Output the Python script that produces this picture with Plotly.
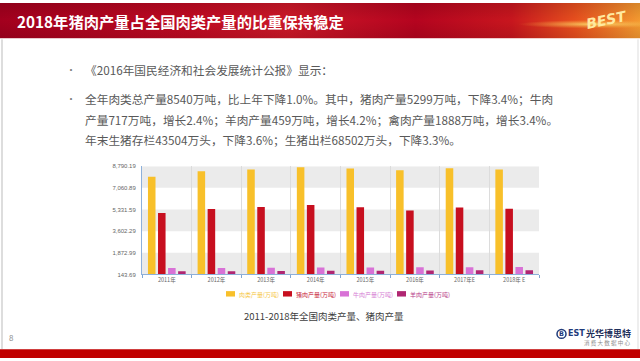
import base64
import plotly.graph_objects as go

# ---------------- data ----------------
years = ["2011年", "2012年", "2013年", "2014年", "2015年", "2016年", "2017年E", "2018年 E"]
meat = [7950, 8390, 8530, 8710, 8610, 8460, 8630, 8530]
pork = [5060, 5380, 5530, 5690, 5510, 5250, 5500, 5400]
beef = [650, 665, 680, 690, 700, 717, 725, 735]
mutton = [393, 401, 408, 428, 441, 459, 468, 475]
series_names = ["肉类产量(万吨)", "猪肉产量(万吨)", "牛肉产量(万吨)", "羊肉产量(万吨)"]
ytick_vals = [143.69, 1872.99, 3602.29, 5331.59, 7060.89, 8790.19]
ytick_text = ["143.69", "1,872.99", "3,602.29", "5,331.59", "7,060.89", "8,790.19"]

title_text = "2018年猪肉产量占全国肉类产量的比重保持稳定"
bullet_lines = [
    "《2016年国民经济和社会发展统计公报》显示：",
    "全年肉类总产量8540万吨，比上年下降1.0%。其中，猪肉产量5299万吨，下降3.4%；牛肉",
    "产量717万吨，增长2.4%；羊肉产量459万吨，增长4.2%；禽肉产量1888万吨，增长3.4%。",
    "年末生猪存栏43504万头，下降3.6%；生猪出栏68502万头，下降3.3%。",
]
caption = "2011-2018年全国肉类产量、猪肉产量"

colors = ["#F8C02A", "#C70F1F", "#D872D6", "#B02672"]
legend_text_colors = ["#F6C84A", "#C8243A", "#D680D4", "#B8408A"]

W, H = 640, 361
def px(x):
    return x / W
def py(y):
    return 1 - y / H

FONT = "Noto Sans CJK SC"

fig = go.Figure()
for name, vals, c in zip(series_names, [meat, pork, beef, mutton], colors):
    fig.add_trace(go.Bar(x=years, y=vals, name=name, marker=dict(color=c, line=dict(width=0)),
                         showlegend=False))

shapes = []
annotations = []

# title bar gradient (decorative background image)
svg = """<svg xmlns='http://www.w3.org/2000/svg' width='640' height='36' viewBox='0 0 640 36'>
<defs>
<linearGradient id='g' x1='0' y1='0' x2='1' y2='0'>
<stop offset='0' stop-color='#A3001E'/>
<stop offset='0.3' stop-color='#C00A22'/>
<stop offset='0.45' stop-color='#CC1828'/>
<stop offset='0.65' stop-color='#B5041F'/>
<stop offset='0.8' stop-color='#C8161E'/>
<stop offset='0.9' stop-color='#E8501E'/>
<stop offset='1' stop-color='#F49A30'/>
</linearGradient>
<radialGradient id='r' cx='0.93' cy='0.6' r='0.12'>
<stop offset='0' stop-color='#FFE070' stop-opacity='0.9'/>
<stop offset='1' stop-color='#FFB040' stop-opacity='0'/>
</radialGradient>
<linearGradient id='v' x1='0' y1='0' x2='0' y2='1'>
<stop offset='0' stop-color='#000000' stop-opacity='0.12'/>
<stop offset='0.5' stop-color='#000000' stop-opacity='0'/>
<stop offset='1' stop-color='#000000' stop-opacity='0.1'/>
</linearGradient>
</defs>
<rect width='640' height='36' fill='url(#g)'/>
<rect width='640' height='36' fill='url(#r)'/>
<rect width='640' height='36' fill='url(#v)'/>
</svg>"""
src = "data:image/svg+xml;base64," + base64.b64encode(svg.encode()).decode()
images = [dict(source=src, xref="paper", yref="paper", x=0, y=1, sizex=1, sizey=36 / H,
               xanchor="left", yanchor="top", sizing="stretch", layer="below")]

# slide borders
shapes.append(dict(type="line", xref="paper", yref="paper", x0=px(2), x1=px(2), y0=py(37), y1=py(352),
                   line=dict(color="#BBBBBB", width=1)))
shapes.append(dict(type="line", xref="paper", yref="paper", x0=px(638), x1=px(638), y0=py(37), y1=py(352),
                   line=dict(color="#DDDDDD", width=1)))
# bottom red bar
shapes.append(dict(type="rect", xref="paper", yref="paper", x0=0, x1=1, y0=0, y1=py(352),
                   fillcolor="#C00000", line=dict(width=0)))

# alternating bands in plot area
for lo, hi in [(ytick_vals[0], ytick_vals[1]), (ytick_vals[2], ytick_vals[3]), (ytick_vals[4], ytick_vals[5])]:
    shapes.append(dict(type="rect", xref="x domain", yref="y", x0=0, x1=1, y0=lo, y1=hi,
                       fillcolor="#EBEBEB", line=dict(width=0), layer="below"))

# title
annotations.append(dict(text=f"<b>{title_text}</b>", xref="paper", yref="paper", x=px(15), y=py(18),
                        xanchor="left", yanchor="middle", showarrow=False,
                        font=dict(family=FONT, size=15.3, color="white")))
# BEST logo in title
annotations.append(dict(text="<b><i>BEST</i></b>", xref="paper", yref="paper", x=px(606), y=py(17),
                        xanchor="center", yanchor="middle", showarrow=False, textangle=-12,
                        font=dict(family="DejaVu Sans", size=14, color="#FFE9A0")))

# bullets
bullet_y = [68, 97, 118, 139]
for line, yy in zip(bullet_lines, bullet_y):
    annotations.append(dict(text=line, xref="paper", yref="paper", x=px(83), y=py(yy),
                            xanchor="left", yanchor="middle", showarrow=False,
                            font=dict(family=FONT, size=11.7, color="#595959")))
for yy in [68, 97]:
    annotations.append(dict(text="•", xref="paper", yref="paper", x=px(71), y=py(yy),
                            xanchor="center", yanchor="middle", showarrow=False,
                            font=dict(family=FONT, size=10, color="#7F7F7F")))

# legend (manual, compact)
leg_x = [226, 283, 340, 397]
for name, c, tc, lx in zip(series_names, colors, legend_text_colors, leg_x):
    shapes.append(dict(type="rect", xref="paper", yref="paper", x0=px(lx), x1=px(lx + 9),
                       y0=py(298.5), y1=py(293), fillcolor=c, line=dict(width=0)))
    annotations.append(dict(text=name, xref="paper", yref="paper", x=px(lx + 11), y=py(296),
                            xanchor="left", yanchor="middle", showarrow=False,
                            font=dict(family=FONT, size=6, color=tc)))

# caption
annotations.append(dict(text=caption, xref="paper", yref="paper", x=px(324), y=py(318),
                        xanchor="center", yanchor="middle", showarrow=False,
                        font=dict(family=FONT, size=9.5, color="#404040")))
# page number
annotations.append(dict(text="8", xref="paper", yref="paper", x=px(11), y=py(340),
                        xanchor="center", yanchor="middle", showarrow=False,
                        font=dict(family=FONT, size=8, color="#8C8C8C")))
# bottom-right logo
shapes.append(dict(type="circle", xref="paper", yref="paper", x0=px(557), x1=px(566),
                   y0=py(341), y1=py(332), line=dict(color="#1F3A7A", width=1.5)))
annotations.append(dict(text="<b>B</b>", xref="paper", yref="paper", x=px(561.5), y=py(336.5),
                        xanchor="center", yanchor="middle", showarrow=False,
                        font=dict(family="DejaVu Sans", size=6.5, color="#1F3A7A")))
annotations.append(dict(text="<b>EST</b>", xref="paper", yref="paper", x=px(566), y=py(336.5),
                        xanchor="left", yanchor="middle", showarrow=False,
                        font=dict(family="DejaVu Sans", size=8, color="#1F3A7A")))
annotations.append(dict(text="<b>光华博思特</b>", xref="paper", yref="paper", x=px(633), y=py(336.5),
                        xanchor="right", yanchor="middle", showarrow=False,
                        font=dict(family=FONT, size=9, color="#1F2F5A")))
annotations.append(dict(text="消 费 大 数 据 中 心", xref="paper", yref="paper", x=px(632), y=py(346),
                        xanchor="right", yanchor="middle", showarrow=False,
                        font=dict(family=FONT, size=5.5, color="#8C8C8C")))

fig.update_layout(
    width=W, height=H, autosize=False,
    margin=dict(l=0, r=0, t=0, b=0),
    paper_bgcolor="white", plot_bgcolor="white",
    barmode="group", bargap=0.19, bargroupgap=0.25,
    font=dict(family=FONT),
    shapes=shapes, annotations=annotations, images=images,
    xaxis=dict(domain=[px(142), px(539)], tickson="boundaries", ticks="outside", ticklen=3,
               tickcolor="#7FA6D3", showline=True, linecolor="#8DB0DA", linewidth=1,
               showgrid=True, gridcolor="#DCDCDC", gridwidth=1,
               tickfont=dict(family=FONT, size=5.5, color="#666666"), fixedrange=True),
    yaxis=dict(domain=[py(276), py(166)], range=[ytick_vals[0], ytick_vals[-1]],
               tickvals=ytick_vals, ticktext=ytick_text, showgrid=False, zeroline=False,
               showline=True, linecolor="#8DB0DA", linewidth=1, ticks="",
               ticklabelstandoff=4,
               tickfont=dict(family="Liberation Sans", size=6, color="#666666"), fixedrange=True),
)

fig.write_html("out.html", config={"displayModeBar": False},
               post_script="document.body.style.margin='0px';document.body.style.overflow='hidden';")
